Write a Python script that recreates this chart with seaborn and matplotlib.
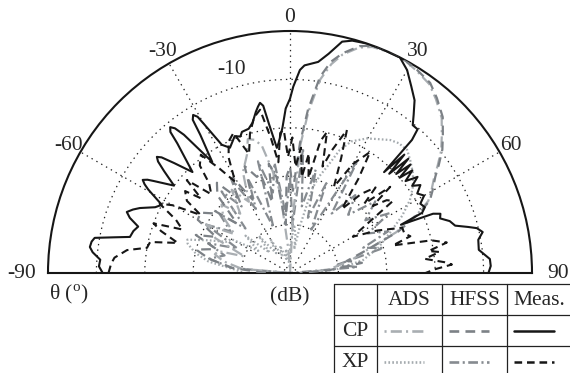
import numpy as np
import pandas as pd
import matplotlib
matplotlib.use('Agg')
from matplotlib import pyplot as plt
import seaborn as sns

# measured co-pol (solid black)
th_meas_cp = [-90, -88, -86, -84, -82.6, -81, -79.8, -78.5, -77.3, -75, -73, -71, -69.5, -68, -66.6,
              -64, -62, -59.5, -58.6, -57.7, -56.8, -56, -53, -51, -49.8, -48.9, -48, -46.5, -44, -41,
              -40.3, -39.4, -38.5, -37.5, -35, -33, -32.4, -31.5, -30.6, -30, -28, -25.6, -22, -20, -18.8,
              -16, -14, -12, -10.9, -10, -9.1, -8, -6, -5, -3, -1.5,
              0, 1, 2.8, 4, 7.6, 10, 12.7, 15, 18.5, 22, 27, 30, 33, 35.8, 38, 39.7, 41.6, 42.5,
              43, 44, 45, 46, 47, 48, 49, 50, 51.5, 53, 54.5, 56, 58, 60, 62, 64, 65.5, 66.5,
              67.5, 68.5, 70, 72, 74, 75.5, 76.5, 78, 80, 83, 86, 88, 90]
db_meas_cp = [-11.3, -10.5, -10.7, -9, -8.3, -8.5, -9, -13, -16.1, -16.5, -17.2, -15, -14, -15, -16.2,
              -19, -20, -16, -14.8, -14, -14.8, -16, -20, -16.5, -14.3, -13.5, -14.3, -17, -21, -14.5,
              -11.8, -11, -11.8, -14, -22, -16, -12.5, -11.7, -12.5, -14.5, -20, -21.3, -19.5, -20, -19.2,
              -19, -18, -16, -15, -14.3, -15, -19, -24, -23, -20, -16,
              -14, -11.5, -8, -7, -6, -4, -1, -0.3, 0, 0, 0, -1.6, -4, -6, -8.5, -10.3, -10.3, -12.7,
              -21.5, -16, -21, -16, -20, -16.5, -20, -17, -19.5, -17, -19, -17.5, -19, -18, -19.5, -19, -20, -25,
              -18, -16.6, -17, -15.3, -14.5, -12, -10.3, -9.3, -10.5, -10.7, -8.6, -8.5, -9]

# measured cross-pol (dashed black)
th_meas_xp = [-90, -87, -85, -82, -80, -77.5, -75, -72, -70, -68, -65, -62, -60, -57, -55, -52, -50,
              -48, -45, -42, -40, -37, -34, -31, -28, -25, -22, -19, -16, -13, -10.4, -8, -6, -4,
              -2.5, -1, 1, 3, 5, 7, 9, 11, 13, 14.7, 17, 19, 21.7, 24, 27, 30, 33.5, 36, 39, 42,
              45, 47, 49.3, 51, 53, 55, 57, 60, 64, 68, 71, 73, 75, 77, 79, 81, 82, 84, 86, 87,
              88.5, 90]
db_meas_xp = [-12.5, -13, -13.6, -16, -20, -20.4, -26, -22, -20, -26, -24, -19.5, -22, -28, -24, -22.5, -26,
              -21.3, -27, -25, -21, -19.4, -24, -28, -23, -20, -18.8, -24, -20, -17, -15.7, -22, -27, -21,
              -20.4, -26, -22, -28, -24, -30, -25, -30, -22, -19.9, -27, -23, -18.2, -24, -30, -24, -20, -26, -33, -28,
              -25, -29, -22.7, -28, -25, -24, -30, -35, -30, -25, -25, -24, -28, -20, -17, -21, -18.8, -22, -18, -16.5,
              -20, -22]

# HFSS co-pol (gray dashed)
th_hfss_cp = [-90, -85, -80, -76, -72, -68, -64, -60, -56, -52, -50.7, -47, -43, -39, -35, -31, -27,
              -23, -19, -16.7, -14, -11, -8, -5, -2, 0, 2, 3, 4.4, 6.3, 8.7, 11, 13.5, 17, 20, 24,
              28, 32, 36.4, 40, 44.4, 48, 51, 54, 56.5, 60, 62.5, 65, 69, 73, 78, 82, 86, 90]
db_hfss_cp = [-45, -38, -33, -30, -34, -29, -33, -28, -27.7, -30, -29.4, -35, -28, -26, -31, -27, -33,
              -26, -29, -28.5, -35, -27, -30, -40, -30, -28, -33, -30, -23, -16, -9, -5.5, -3.3, -1, 0, 0,
              0, -0.5, -1.2, -2.8, -4.9, -7.5, -9.5, -12, -14, -16, -17.4, -20.3, -26, -33, -38, -35, -42, -48]

# ADS co-pol (light gray dot-dash), main beam close to HFSS
th_ads_cp = [-90, -85, -80, -76, -73, -70, -65, -60, -55, -50, -45, -40, -35, -30, -25, -20, -17.5,
             -15, -12.5, -10, -7, -4, 0, 3, 4.6, 6.5, 8.9, 11.2, 13.5, 17, 20, 24, 28, 32, 36.4, 40,
             44.4, 48, 51, 54, 56.5, 60, 62.5, 65, 69, 73, 78, 85, 90]
db_ads_cp = [-50, -40, -36, -34, -34.5, -40, -33, -30, -36, -32, -30, -34, -29, -33, -27, -24, -21,
             -21.5, -23, -28, -33, -45, -50, -38, -23.5, -16.5, -9.5, -6, -3.6, -1.3, -0.3, 0, 0, -0.7, -1.5, -3.1,
             -5.2, -7.8, -9.8, -12.3, -14.3, -16.3, -17.8, -20.8, -26.5, -33, -37, -42, -48]

# HFSS cross-pol (gray dash-dot)
th_hfss_xp = [-90, -85, -80, -75, -70, -65, -60, -55, -50, -45, -40, -36, -32, -28, -24, -20, -16,
              -12, -8, -4, 0, 3, 6, 10, 14, 18, 22, 26, 31, 35, 40, 45, 50, 55, 59, 63, 67, 71,
              75, 80, 85, 90]
db_hfss_xp = [-50, -38, -33, -36, -32, -38, -30, -35, -31, -37, -28, -33, -27, -35, -29, -40, -26,
              -33, -27, -38, -30, -40, -24, -36, -28, -38, -30, -40, -22.8, -35, -29, -33, -27, -31, -26, -32, -28, -34,
              -30, -40, -36, -50]

# ADS cross-pol (light gray dotted)
th_ads_xp = [-90, -87, -82, -78, -74, -72, -68, -64, -60, -55, -50, -45, -40, -35, -30, -25, -20,
             -15, -10, -5, 0, 5, 8, 10, 12, 14, 15, 17, 19.2, 22, 25, 29.7, 33, 37, 40, 43.6, 47,
             51, 55, 58.7, 63, 68, 74, 80, 85, 90]
db_ads_xp = [-40, -39, -33, -30, -28, -27.7, -32, -35.3, -36, -42, -38, -44, -40, -45, -42, -46, -44,
             -47, -45, -48, -45, -40, -42, -45, -40, -35, -31.6, -29, -26.8, -22.6, -20, -18, -17, -15.6, -15, -14.9, -16,
             -17.3, -19, -21, -24, -27.7, -31, -34.7, -40, -45]

angle_ticks = [-60, -30, 0, 30, 60]
edge_ticks = [-90, 90]
ring_ticks = [-40, -30, -20, -10]
col_names = ['ADS', 'HFSS', 'Meas.']
row_names = ['CP', 'XP']

sns.set_theme(style='white')
plt.rcParams['font.family'] = ['Liberation Serif', 'DejaVu Serif']
plt.rcParams['mathtext.fontset'] = 'custom'
plt.rcParams['mathtext.rm'] = 'Liberation Serif'
plt.rcParams['lines.scale_dashes'] = False

FS = 15.5
fig = plt.figure(figsize=(5.7, 3.73), dpi=100)
# square box: the half disc sits in its middle band
ax = fig.add_axes([48 / 570, (373 - 394) / 373, 484 / 570, 484 / 373], projection='polar')
ax.patch.set_alpha(0)

series = [
    (th_ads_xp, db_ads_xp, '#a4aaae', (0, (1.2, 1.6)), 1.6, 2),
    (th_hfss_xp, db_hfss_xp, '#868b90', (0, (7, 2.5, 1.5, 2.5)), 1.6, 2),
    (th_ads_cp, db_ads_cp, '#a9aeb2', (0, (1.5, 3, 8, 3)), 1.6, 2),
    (th_hfss_cp, db_hfss_cp, '#7c8186', (0, (7, 4.5)), 1.6, 3),
    (th_meas_xp, db_meas_xp, '#161616', (0, (5.5, 3.5)), 1.5, 4),
    (th_meas_cp, db_meas_cp, '#161616', '-', 1.5, 5),
]
for th, db, c, ls, lw, z in series:
    df = pd.DataFrame({'theta': np.deg2rad(th), 'dB': db})
    sns.lineplot(data=df, x='theta', y='dB', ax=ax, sort=False, estimator=None,
                 color=c, linestyle=ls, lw=lw, zorder=z)

ax.set_theta_zero_location('N')
ax.set_theta_direction(-1)
ax.set_thetamin(-90)
ax.set_thetamax(90)
ax.set_rlim(-50, 0)
ax.set_xlabel('')
ax.set_ylabel('')
ax.set_thetagrids(angle_ticks, [str(a) for a in angle_ticks], fontsize=FS)
ax.set_rgrids(ring_ticks, [''] * len(ring_ticks))
ax.tick_params(axis='x', pad=-3.5)
ax.grid(True, color='#222222', linestyle=(0, (1, 3)), lw=0.9)
for s in ax.spines.values():
    s.set_color('#161616')
    s.set_linewidth(1.5)
for a in edge_ticks:
    ax.text(np.deg2rad(a), 5.4, str(a), ha='center', va='center', fontsize=FS)
ax.text(np.deg2rad(-16), -6.2, '-10', ha='center', va='center', fontsize=FS)

fig.text(69 / 570, 1 - 294 / 373, r'θ ($^{\mathrm{o}}$)', ha='center', va='center', fontsize=FS)
fig.text(290 / 570, 1 - 297 / 373, '(dB)', ha='center', va='center', fontsize=FS)

# legend table
tab = fig.add_axes([0, 0, 1, 1], facecolor='none')
tab.set_xlim(0, 570)
tab.set_ylim(373, 0)
tab.axis('off')
xs = [334, 377, 442, 507, 572]
ys = [284, 315, 346, 377]
for y in ys[:-1]:
    tab.plot([xs[0], xs[-1]], [y, y], color='#222222', lw=0.9)
for x in xs:
    tab.plot([x, x], [ys[0], ys[-1]], color='#222222', lw=0.9)
for j, name in enumerate(col_names):
    tab.text((xs[j + 1] + xs[j + 2]) / 2, (ys[0] + ys[1]) / 2 + 1, name, ha='center', va='center', fontsize=FS)
for i, name in enumerate(row_names):
    tab.text((xs[0] + xs[1]) / 2, (ys[i + 1] + ys[i + 2]) / 2 + 1, name, ha='center', va='center', fontsize=FS)
legend_styles = [[series[2], series[3], series[5]], [series[0], series[1], series[4]]]
for i in range(2):
    ym = (ys[i + 1] + ys[i + 2]) / 2
    for j in range(3):
        _, _, c, ls, lw, _ = legend_styles[i][j]
        tab.plot([xs[j + 1] + 7, xs[j + 1] + 47], [ym, ym], color=c, linestyle=ls, lw=lw + 0.3)

fig.savefig('out.png', dpi=100)
